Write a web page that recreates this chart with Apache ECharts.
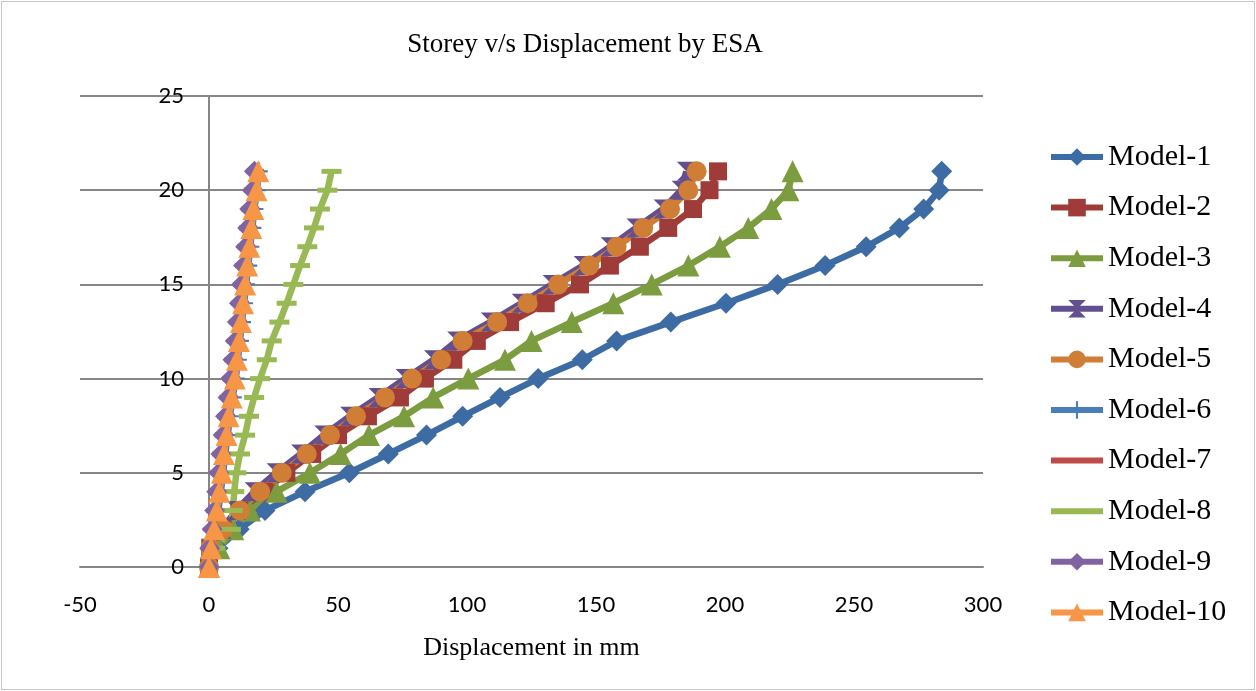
<!DOCTYPE html>
<html>
<head>
<meta charset="utf-8">
<title>Storey v/s Displacement by ESA</title>
<script src="https://cdn.jsdelivr.net/npm/echarts@6/dist/echarts.min.js"></script>
<style>
  html, body { margin: 0; padding: 0; background: #fff; }
  #chart { width: 1256px; height: 691px; }
  #frame { position: absolute; left: 1px; top: 1px; width: 1252px; height: 687px; border: 1px solid #c8c8c8; pointer-events: none; }
</style>
</head>
<body>
<div id="chart"></div>
<div id="frame"></div>
<script>
// storey numbers (y) and displacement in mm (x) for each model
const storeys = [0, 1, 2, 3, 4, 5, 6, 7, 8, 9, 10, 11, 12, 13, 14, 15, 16, 17, 18, 19, 20, 21];

const model1 = [0, 3.5, 11.7, 21.7, 37.2, 54.4, 69.5, 84.3, 98.3, 112.8, 127.6, 144.7, 158, 179, 200.4, 220.4, 238.8, 254.7, 267.6, 277, 283, 284];
const model2 = [0, 0.5, 6, 12.4, 21.3, 30, 40, 50, 61.6, 74, 83.7, 94.7, 103.8, 116.7, 130.5, 143.8, 155.4, 167, 178, 187.6, 194, 197.3];
const model3 = [0, 4, 9.4, 15.9, 26.2, 39.1, 51, 62, 75.6, 86.9, 100.5, 114.7, 125, 140.6, 156.7, 171.6, 185.8, 198, 209, 218, 224.6, 226.2];
const model4 = [0, 0.5, 5, 10.5, 17.5, 26, 35.5, 44.5, 54.5, 65.5, 76, 87, 96, 109, 121, 133, 145, 155.5, 165.5, 176, 183, 185];
const model5 = [0, 0.5, 5.5, 12, 19.8, 28.2, 37.9, 46.9, 57, 68.2, 78.7, 90, 98.3, 111.7, 123.5, 135.4, 147.4, 158, 168.3, 178.7, 185.8, 189];
const model6 = [0, 1, 2.5, 3.6, 4.6, 5.5, 6.3, 7.3, 8.1, 9.2, 10.4, 11.2, 12, 12.8, 13.6, 14.4, 15.2, 16, 16.8, 17.6, 18.6, 19.3];
const model7 = [0, 0.4, 1.4, 2.4, 3.2, 4, 4.8, 5.7, 6.6, 7.6, 8.6, 9.5, 10.4, 11.2, 12, 12.8, 13.6, 14.4, 15.2, 16, 17, 17.8];
const model8 = [0, 2.5, 8.5, 9.2, 9.8, 10.6, 12, 14, 15.5, 17.5, 19.8, 22.4, 24.3, 27.3, 30.1, 32.7, 35.3, 38.1, 40.7, 43, 45.9, 47.5];
const model9 = [0, 0.3, 1.2, 2.2, 3, 3.8, 4.6, 5.5, 6.4, 7.4, 8.4, 9.3, 10.2, 11, 11.8, 12.6, 13.4, 14.2, 15, 15.8, 16.8, 17.6];
const model10 = [0, 0.8, 2, 3, 4, 5, 5.8, 6.8, 7.6, 8.8, 10, 10.8, 11.6, 12.4, 13.2, 14, 14.8, 15.6, 16.4, 17.2, 18.4, 19.1];

const xTicks = [-50, 0, 50, 100, 150, 200, 250, 300];
const yTicks = [0, 5, 10, 15, 20, 25];

const hourglass = 'path://M0,0L10,0L5,5L10,10L0,10L5,5Z';
const plus = 'path://M4.4,0H5.6V4.4H10V5.6H5.6V10H4.4V5.6H0V4.4H4.4Z';

const defs = [
  { name: 'Model-1', values: model1, color: '#3d6ba3', symbol: 'diamond', size: 21 },
  { name: 'Model-2', values: model2, color: '#9f3c39', symbol: 'rect', size: 18 },
  { name: 'Model-3', values: model3, color: '#7b9c3f', symbol: 'triangle', size: 22 },
  { name: 'Model-4', values: model4, color: '#634f90', symbol: hourglass, size: 19 },
  { name: 'Model-5', values: model5, color: '#d07d35', symbol: 'circle', size: 20 },
  { name: 'Model-6', values: model6, color: '#4a7ebb', symbol: plus, size: 18 },
  { name: 'Model-7', values: model7, color: '#be4b48', symbol: 'rect', size: [18, 5] },
  { name: 'Model-8', values: model8, color: '#98b954', symbol: 'rect', size: [20, 5] },
  { name: 'Model-9', values: model9, color: '#8064a2', symbol: 'diamond', size: 21 },
  { name: 'Model-10', values: model10, color: '#f79646', symbol: 'triangle', size: 22 }
];

const series = defs.map(d => ({
  name: d.name,
  type: 'line',
  data: d.values.map((v, i) => [v, storeys[i]]),
  symbol: d.symbol,
  symbolSize: d.size,
  showAllSymbol: true,
  lineStyle: { color: d.color, width: 6.5 },
  itemStyle: { color: d.color, borderWidth: 0 },
  emphasis: { disabled: true },
  animation: false
}));

const legendData = defs.map(d => {
  const item = { name: d.name };
  if (d.name === 'Model-7' || d.name === 'Model-8') item.itemStyle = { opacity: 0 };
  return item;
});

const chart = echarts.init(document.getElementById('chart'));
chart.setOption({
  backgroundColor: '#ffffff',
  animation: false,
  title: {
    text: 'Storey v/s Displacement by ESA',
    left: 580,
    textAlign: 'center',
    top: 26,
    textStyle: { fontFamily: 'Liberation Serif', fontSize: 27, fontWeight: 'normal', color: '#000' }
  },
  legend: {
    orient: 'vertical',
    left: 1043,
    top: 136,
    itemWidth: 52,
    itemHeight: 22,
    itemGap: 18.6,
    data: legendData,
    lineStyle: { width: 6 },
    textStyle: { fontFamily: 'Liberation Serif', fontSize: 30, color: '#000', lineHeight: 32 }
  },
  grid: { left: 80, right: 273, top: 96, bottom: 124, containLabel: false },
  xAxis: {
    type: 'value',
    min: xTicks[0],
    max: xTicks[xTicks.length - 1],
    interval: 50,
    name: 'Displacement in mm',
    nameLocation: 'middle',
    nameGap: 68,
    nameTextStyle: { fontFamily: 'Liberation Serif', fontSize: 26, color: '#000' },
    axisLine: { show: true, onZero: true, lineStyle: { color: '#868686', width: 2 } },
    axisTick: { show: false },
    axisLabel: { fontFamily: 'Lato', fontSize: 22, color: '#000', margin: 27 },
    splitLine: { show: false }
  },
  yAxis: {
    type: 'value',
    min: yTicks[0],
    max: yTicks[yTicks.length - 1],
    interval: 5,
    axisLine: { show: true, onZero: true, lineStyle: { color: '#868686', width: 2 } },
    axisTick: { show: false },
    // labels sit beside the zero line, not at the grid edge
    axisLabel: { fontFamily: 'Lato', fontSize: 22, color: '#000', margin: -104 },
    splitLine: { show: true, lineStyle: { color: '#868686', width: 2 } }
  },
  series: series
});
</script>
</body>
</html>
